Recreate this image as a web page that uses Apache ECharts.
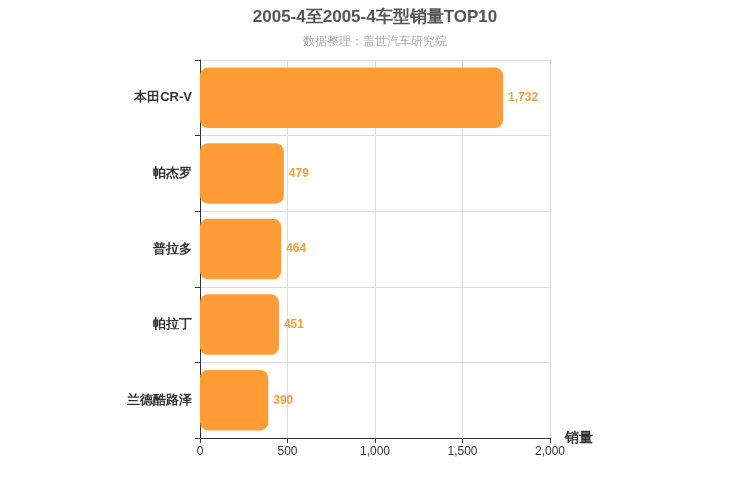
<!DOCTYPE html>
<html><head><meta charset="utf-8">
<script src="https://cdn.jsdelivr.net/npm/echarts@6/dist/echarts.min.js"></script>
</head><body style="margin:0">
<div id="c" style="width:750px;height:500px"></div>
<script>
const categories = ['本田CR-V','帕杰罗','普拉多','帕拉丁','兰德酷路泽'];
const sales = [1732, 479, 464, 451, 390];
const xTicks = [0, 500, 1000, 1500, 2000];
const chart = echarts.init(document.getElementById('c'));
chart.setOption({
  animation:false,
  title:{text:'2005-4至2005-4车型销量TOP10',subtext:'数据整理：盖世汽车研究院',left:'center',top:4,
    textStyle:{fontSize:17,fontWeight:'bold',color:'#555'},subtextStyle:{fontSize:12,color:'#aaa'},itemGap:10},
  grid:{left:200,right:200,top:60,bottom:62},
  xAxis:{type:'value',min:xTicks[0],max:xTicks[xTicks.length-1],interval:500,name:'销量',
    nameTextStyle:{fontSize:14,fontWeight:'bold',color:'#333',padding:[28,0,0,0]},
    axisLine:{show:true,lineStyle:{color:'#333'}},axisTick:{show:true},
    axisLabel:{color:'#333'},splitLine:{lineStyle:{color:'#ddd'}}},
  yAxis:{type:'category',data:categories,inverse:true,
    axisLine:{lineStyle:{color:'#333'}},axisTick:{show:true},
    axisLabel:{fontSize:13,fontWeight:'bold',color:'#333'},
    splitLine:{show:true,lineStyle:{color:'#ddd'}}},
  series:[{type:'bar',data:sales,barWidth:'80%',
    itemStyle:{color:'#ff9c35',borderRadius:8},
    label:{show:true,position:'right',color:'#f0a040',fontWeight:'bold',fontSize:12,
      formatter:p=>p.value.toLocaleString('en-US')}}]
});
</script></body></html>
